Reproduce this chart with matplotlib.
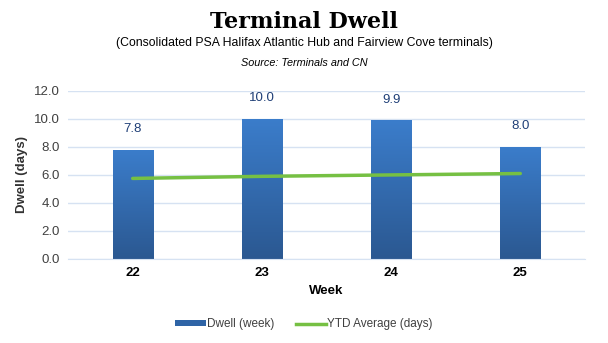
import numpy as np
import matplotlib.pyplot as plt
from matplotlib.colors import LinearSegmentedColormap
from matplotlib.lines import Line2D
from matplotlib.patches import Patch

plt.rcParams['font.family'] = ['Liberation Sans', 'DejaVu Sans']

# Chart data
weeks = ["22", "23", "24", "25"]
dwell_week = [7.8, 10.0, 9.9, 8.0]
ytd_average = [5.75, 5.9, 6.0, 6.1]
y_ticks = [0, 2, 4, 6, 8, 10, 12]

fig = plt.figure(figsize=(6.08, 3.43), dpi=100)
ax = fig.add_axes([0.112, 0.245, 0.85, 0.49])

x = np.arange(len(weeks))
bars = ax.bar(x, dwell_week, width=0.31, color="none", zorder=2)

# vertical gradient fill inside each bar
grad_cmap = LinearSegmentedColormap.from_list("bar", ["#2b5891", "#3b7dcb"])
grad = np.linspace(0, 1, 256).reshape(-1, 1)
for b in bars:
    x0, w, h = b.get_x(), b.get_width(), b.get_height()
    im = ax.imshow(grad, cmap=grad_cmap, origin="lower", aspect="auto",
                   extent=[x0, x0 + w, 0, h], zorder=2)
    im.set_clip_path(b)
    ax.text(x0 + w / 2, h + 1.05, f"{h:.1f}", ha="center", va="bottom",
            fontsize=9.5, color="#1f3f77")

ax.plot(x, ytd_average, color="#76c043", linewidth=2.5, zorder=3,
        solid_capstyle="round")

ax.set_xlim(-0.5, len(weeks) - 0.5)
ax.set_ylim(0, 12)
ax.set_yticks(y_ticks)
ax.set_yticklabels([f"{v:.1f}" for v in y_ticks], fontsize=9.5, color="#404040")
ax.set_xticks(x)
ax.set_xticklabels(weeks, fontsize=9.5, fontweight="bold", color="black")
ax.tick_params(length=0, pad=6)
ax.grid(axis="y", color="#d6e2f2", linewidth=1, zorder=0)
ax.set_axisbelow(True)
for s in ax.spines.values():
    s.set_visible(False)
ax.spines["bottom"].set_visible(True)
ax.spines["bottom"].set_color("#d6e2f2")

ax.set_ylabel("Dwell (days)", fontsize=9.5, fontweight="bold", color="#333333", labelpad=4)
ax.set_xlabel("Week", fontsize=9.5, fontweight="bold", color="black", labelpad=4)

fig.text(0.5, 0.935, "Terminal Dwell", ha="center", va="center",
         fontsize=16, fontweight="bold", family="DejaVu Serif")
fig.text(0.5, 0.875, "(Consolidated PSA Halifax Atlantic Hub and Fairview Cove terminals)",
         ha="center", va="center", fontsize=8.8)
fig.text(0.5, 0.815, "Source: Terminals and CN", ha="center", va="center",
         fontsize=7.8, style="italic")

handles = [Patch(facecolor="#2f64a6"),
           Line2D([0], [0], color="#76c043", linewidth=2.5)]
fig.legend(handles, ["Dwell (week)", "YTD Average (days)"], loc="center",
           bbox_to_anchor=(0.5, 0.055), ncol=2, frameon=False, fontsize=8.5,
           handlelength=2.6, handleheight=0.35, columnspacing=1.8, handletextpad=0.1,
           labelcolor="#404040")

fig.savefig("out.png", dpi=100)
